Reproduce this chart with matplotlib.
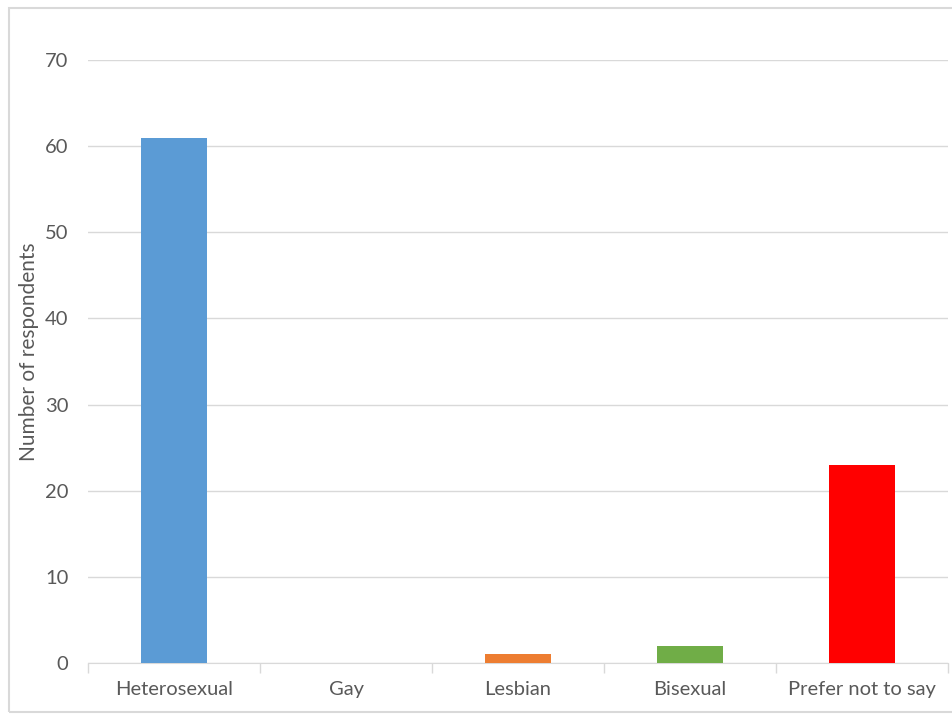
import numpy as np
import matplotlib.pyplot as plt
from matplotlib.patches import Rectangle

# Datos
categories = ["Heterosexual", "Gay", "Lesbian", "Bisexual", "Prefer not to say"]
counts = [61, 0, 1, 2, 23]
bar_colors = ["#5B9BD5", "#A5A5A5", "#ED7D31", "#70AD47", "#FF0000"]
y_ticks = [0, 10, 20, 30, 40, 50, 60, 70]

plt.rcParams['font.family'] = ['Lato', 'DejaVu Sans']

fig = plt.figure(figsize=(9.52, 7.18), dpi=100)
ax = fig.add_axes([88 / 952, 55 / 718, 860 / 952, 603 / 718])

# Marco del grafico
fig.patches.append(Rectangle((9 / 952, 6 / 718), 950 / 952, 704 / 718,
                             transform=fig.transFigure, fill=False,
                             edgecolor="#D9D9D9", linewidth=1.5))

x = np.arange(len(categories))
ax.bar(x, counts, width=0.38, color=bar_colors, zorder=3)

ax.set_xlim(-0.5, len(categories) - 0.5)
ax.set_ylim(0, 70)
ax.set_yticks(y_ticks)
ax.yaxis.grid(True, color="#D9D9D9", linewidth=1)
ax.set_axisbelow(True)

ax.set_xticks(x)
ax.set_xticklabels(categories)
ax.set_xticks(np.arange(-0.5, len(categories)), minor=True)
ax.tick_params(axis="x", which="major", length=0, pad=13, labelsize=14.5, labelcolor="#595959")
ax.tick_params(axis="x", which="minor", length=7, color="#D9D9D9", width=1)
ax.tick_params(axis="y", length=0, pad=14, labelsize=14.5, labelcolor="#595959")

for side in ["top", "right", "left"]:
    ax.spines[side].set_visible(False)
ax.spines["bottom"].set_color("#D9D9D9")

# Etiqueta del eje Y en posicion fija
fig.text(29 / 952, 1 - 352 / 718, "Number of respondents", rotation=90,
         ha="center", va="center", fontsize=15, color="#595959")

plt.savefig("out.png", dpi=100)
